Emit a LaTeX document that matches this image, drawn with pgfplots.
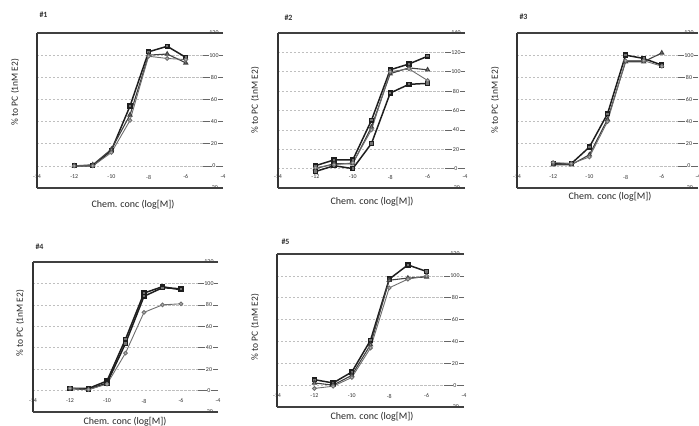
\documentclass[border=0pt]{standalone}
\usepackage{pgfplots}
\pgfplotsset{compat=1.18}
\usepackage{fontspec}
\setmainfont{Carlito}
\definecolor{lineA}{HTML}{1E1E1E}
\definecolor{lineB}{HTML}{404040}
\definecolor{lineC}{HTML}{6E6E6E}
\pgfplotsset{
  panel/.style={
    scale only axis,
    anchor=south west,
    xmin=-14, xmax=-4,
    ymin=-20,
    axis line style={draw=none},
    xtick={-14,-12,...,-4},
    xtick style={draw=none},
    xticklabel style={anchor=center, yshift=11bp, font=\fontsize{6}{6}\selectfont, text=black!80},
    ytick pos=right,
    yticklabel pos=right,
    yticklabel style={anchor=center, xshift=-9bp, fill=white, inner sep=0.6pt, font=\fontsize{6}{6}\selectfont, text=black!80},
    major tick length=20bp,
    tick align=inside,
    ytick style={draw=black!60, line width=0.6pt},
    ymajorgrids,
    grid style={dash pattern=on 2.5pt off 1.5pt, black!25, line width=0.6pt},
    /pgf/number format/assume math mode=true,
    clip=false,
  },
  sA/.style={lineA, line width=1.5pt, mark=square*, mark size=1.9pt, mark options={fill=black!55, draw=lineA, solid}},
  sB/.style={lineB, line width=1.1pt, mark=triangle*, mark size=2.2pt, mark options={fill=black!40, draw=lineB, solid}},
  sC/.style={lineC, line width=0.9pt, mark=*, mark size=1.9pt, mark options={fill=black!30, draw=lineC, solid}},
}
\newcommand{\frameit}{%
  \draw[black!80, line width=1.6pt] (rel axis cs:0,0) -- (rel axis cs:0,1);
  \draw[black!75, line width=1.6pt] (rel axis cs:0,1) -- (rel axis cs:1,1);
  \draw[black!75, line width=1.6pt] (rel axis cs:0,0) -- (rel axis cs:1,0);
}
\begin{document}
\begin{tikzpicture}
\path[use as bounding box] (0,0) rectangle (699bp,426bp);
\tikzset{xlab/.style={font=\fontsize{10}{10}\selectfont, text=black!85},
         ylab/.style={font=\fontsize{9.5}{10}\selectfont, text=black!85, rotate=90},
         ttl/.style={font=\fontsize{8}{8}\selectfont\bfseries, text=black!80, anchor=west}}
% ---------- Panel 1
\begin{axis}[panel, at={(37bp,238bp)}, width=186bp, height=155bp, ymax=120, ytick={-20,0,...,120}]
\frameit
\addplot[sA] coordinates {(-12,0) (-11,0) (-10,14) (-9,54) (-8,103) (-7,108) (-6,98)};
\addplot[sB] coordinates {(-12,0) (-11,1) (-10,15) (-9,46) (-8,100) (-7,101) (-6,93)};
\addplot[sC] coordinates {(-12,0) (-11,0) (-10,12) (-9,41) (-8,99) (-7,97) (-6,96)};
\end{axis}
\node[ttl] at (36bp,411bp) {\#1};
\node[ylab] at (15bp,334bp) {\% to PC (1nM E2)};
\node[xlab] at (133bp,221bp) {Chem. conc (log[M])};
% ---------- Panel 2
\begin{axis}[panel, at={(278bp,238bp)}, width=187bp, height=155bp, ymax=140, ytick={-20,0,...,140}]
\frameit
\addplot[sA] coordinates {(-12,3) (-11,9) (-10,9) (-9,50) (-8,102) (-7,108) (-6,116)};
\addplot[sB] coordinates {(-12,0) (-11,5) (-10,5) (-9,43) (-8,98) (-7,104) (-6,102)};
\addplot[sA] coordinates {(-12,-3) (-11,3) (-10,0) (-9,26) (-8,78) (-7,87) (-6,88)};
\addplot[sC] coordinates {(-12,1) (-11,4) (-10,6) (-9,40) (-8,100) (-7,103) (-6,91)};
\end{axis}
\node[ttl] at (281bp,408bp) {\#2};
\node[ylab] at (255bp,326bp) {\% to PC (1nM E2)};
\node[xlab] at (372bp,224bp) {Chem. conc (log[M])};
% ---------- Panel 3
\begin{axis}[panel, at={(517bp,238bp)}, width=181bp, height=155bp, ymax=120, ytick={-20,0,...,120}]
\frameit
\addplot[sA] coordinates {(-12,2) (-11,2) (-10,17) (-9,47) (-8,100) (-7,97) (-6,91)};
\addplot[sB] coordinates {(-12,1) (-11,1) (-10,10) (-9,42) (-8,94) (-7,94) (-6,102)};
\addplot[sC] coordinates {(-12,3) (-11,2) (-10,8) (-9,40) (-8,95) (-7,95) (-6,90)};
\end{axis}
\node[ttl] at (516bp,409bp) {\#3};
\node[ylab] at (495bp,326bp) {\% to PC (1nM E2)};
\node[xlab] at (610bp,229bp) {Chem. conc (log[M])};
% ---------- Panel 4
\begin{axis}[panel, at={(33bp,14bp)}, width=185bp, height=150bp, ymax=120, ytick={-20,0,...,120}]
\frameit
\addplot[sA] coordinates {(-12,2) (-11,2) (-10,9) (-9,48) (-8,91) (-7,97) (-6,94)};
\addplot[sA] coordinates {(-12,2) (-11,1) (-10,7) (-9,44) (-8,88) (-7,96) (-6,95)};
\addplot[sC] coordinates {(-12,2) (-11,1) (-10,6) (-9,35) (-8,73) (-7,80) (-6,81)};
\end{axis}
\node[ttl] at (32bp,179bp) {\#4};
\node[ylab] at (20bp,103bp) {\% to PC (1nM E2)};
\node[xlab] at (125bp,4bp) {Chem. conc (log[M])};
% ---------- Panel 5
\begin{axis}[panel, at={(277bp,19bp)}, width=187bp, height=153bp, ymax=120, ytick={-20,0,...,120}]
\frameit
\addplot[sA] coordinates {(-12,5) (-11,2) (-10,12) (-9,41) (-8,97) (-7,110) (-6,104)};
\addplot[sB] coordinates {(-12,2) (-11,0) (-10,9) (-9,37) (-8,96) (-7,98) (-6,99)};
\addplot[sC] coordinates {(-12,-3) (-11,-1) (-10,7) (-9,34) (-8,89) (-7,97) (-6,100)};
\end{axis}
\node[ttl] at (278bp,184bp) {\#5};
\node[ylab] at (255bp,99bp) {\% to PC (1nM E2)};
\node[xlab] at (372bp,9bp) {Chem. conc (log[M])};
\end{tikzpicture}
\end{document}
